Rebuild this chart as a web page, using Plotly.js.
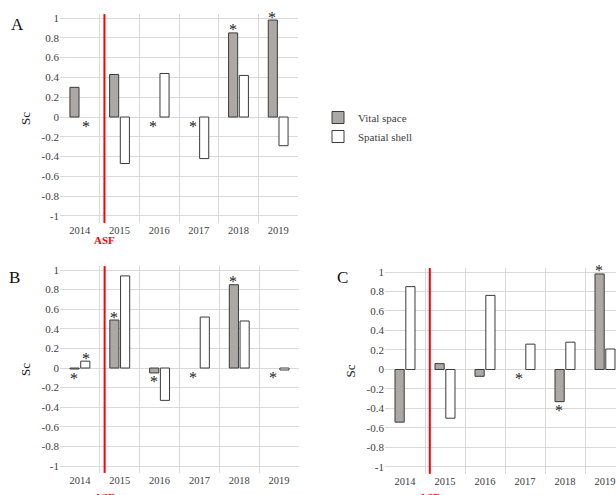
<!DOCTYPE html>
<html>
<head>
<meta charset="utf-8">
<script src="https://cdn.plot.ly/plotly-3.0.1.min.js"></script>
<style>
html,body{margin:0;padding:0;overflow:hidden;background:#fff;}
#chart{width:640px;height:495px;}
</style>
</head>
<body>
<div id="chart"></div>
<script>
// ---- data ----
const years = ['2014','2015','2016','2017','2018','2019'];
const yTickVals = [-1,-0.8,-0.6,-0.4,-0.2,0,0.2,0.4,0.6,0.8,1];
const yTickText = ['-1','-0.8','-0.6','-0.4','-0.2','0','0.2','0.4','0.6','0.8','1'];
const seriesNames = ['Vital space','Spatial shell'];
const panelLabels = ['A','B','C'];
const eventLabel = 'ASF';
const eventPos = 0.62; // between 2014 and 2015 (category index units)

const vitalA = [0.30, 0.43, null, null, 0.85, 0.98];
const shellA = [null, -0.47, 0.44, -0.42, 0.42, -0.29];
const starVitalA = [0,0,1,1,1,1];
const starShellA = [1,0,0,0,0,0];

const vitalB = [-0.01, 0.49, -0.05, null, 0.85, null];
const shellB = [0.07, 0.94, -0.33, 0.52, 0.48, -0.02];
const starVitalB = [1,1,1,1,1,1];
const starShellB = [1,0,0,0,0,0];

const vitalC = [-0.54, 0.06, -0.07, null, -0.33, 0.98];
const shellC = [0.85, -0.50, 0.76, 0.26, 0.28, 0.21];
const starVitalC = [0,0,0,1,1,1];
const starShellC = [0,0,0,0,0,0];

// ---- styling ----
const W = 640, H = 495;
const serif = "'Liberation Serif', 'Times New Roman', serif";
const tickColor = '#404040';
const gridColor = '#d9d9d9';
const grayFill = '#aca8a6';
const edge = '#3a3a3a';
const yRange = [-1.07, 1.04];

const panels = [
  {v: vitalA, s: shellA, sv: starVitalA, ss: starShellA, xd:[60,298], yd:[14.1,222.9], lab:[17,25], asfY:240},
  {v: vitalB, s: shellB, sv: starVitalB, ss: starShellB, xd:[60,299], yd:[266.1,472.9], lab:[14,277], asfY:497},
  {v: vitalC, s: shellC, sv: starVitalC, ss: starShellC, xd:[385,625], yd:[268.1,473.8], lab:[342,277], asfY:497}
];

const px = x => x / W;
const py = y => 1 - y / H;

const data = [];
const layout = {
  width: W, height: H,
  margin: {l:0, r:0, t:0, b:0},
  paper_bgcolor: '#fff', plot_bgcolor: '#fff',
  font: {family: serif, size: 10, color: tickColor},
  barmode: 'group', bargap: 0.46, bargroupgap: 0.15,
  showlegend: true,
  legend: {x: px(318), y: py(103), xanchor:'left', yanchor:'top',
           font:{family: serif, size: 11, color: tickColor}, bgcolor:'rgba(0,0,0,0)',
           itemwidth: 30, tracegroupgap: 0},
  annotations: [], shapes: []
};

panels.forEach((p, i) => {
  const sfx = i === 0 ? '' : String(i + 1);
  const xa = 'x' + sfx, ya = 'y' + sfx;
  data.push({type:'bar', x: years, y: p.v, name: seriesNames[0], xaxis: xa, yaxis: ya,
    marker:{color: grayFill, line:{color: edge, width: 1}}, showlegend: i === 0, legendgroup:'v', hoverinfo:'skip'});
  data.push({type:'bar', x: years, y: p.s, name: seriesNames[1], xaxis: xa, yaxis: ya,
    marker:{color: '#ffffff', line:{color: edge, width: 1}}, showlegend: i === 0, legendgroup:'s', hoverinfo:'skip'});

  layout['xaxis' + sfx] = {
    domain: [px(p.xd[0]), px(p.xd[1])], anchor: ya, type: 'category',
    categoryorder: 'array', categoryarray: years, range: [-0.5, 5.5], autorange: false,
    tickson: 'boundaries', showgrid: true, gridcolor: gridColor, gridwidth: 1,
    showline: false, zeroline: false, ticks: '', tickangle: 0,
    tickfont: {family: serif, size: 10.5, color: tickColor}, fixedrange: true
  };
  layout['yaxis' + sfx] = {
    domain: [py(p.yd[1]), py(p.yd[0])], anchor: xa, range: yRange, autorange: false,
    tickvals: yTickVals, ticktext: yTickText, showgrid: true, gridcolor: gridColor, gridwidth: 1,
    zeroline: false, showline: false, ticks: '',
    tickfont: {family: serif, size: 11, color: tickColor},
    title: {text: 'Sc', font: {family: serif, size: 13, color: '#222'}, standoff: 8},
    fixedrange: true
  };

  // ASF event line + label
  layout.shapes.push({type:'line', xref: xa, yref: ya + ' domain', x0: eventPos, x1: eventPos, y0: 0, y1: 1,
    line:{color:'#ff0000', width: 2}});
  layout.annotations.push({xref: xa, yref:'paper', x: eventPos, y: py(p.asfY), text: '<b>' + eventLabel + '</b>',
    showarrow:false, font:{family: serif, size: 11, color:'#ff0000'}, xanchor:'center', yanchor:'middle'});

  // panel label
  layout.annotations.push({xref:'paper', yref:'paper', x: px(p.lab[0]), y: py(p.lab[1]), text: panelLabels[i],
    showarrow:false, font:{family: serif, size: 17, color:'#111'}, xanchor:'center', yanchor:'middle'});

  // significance stars
  const addStars = (vals, flags, shift) => {
    vals.forEach((v, k) => {
      if (!flags[k]) return;
      const val = v === null ? 0 : v;
      const above = val > 0;
      layout.annotations.push({xref: xa, yref: ya, x: k, y: val, text: '*', showarrow: false,
        xshift: shift, yshift: above ? 3 : -9, xanchor:'center', yanchor:'middle',
        font:{family: serif, size: 16, color:'#222'}});
    });
  };
  addStars(p.v, p.sv, -6);
  addStars(p.s, p.ss, 6);
});

Plotly.newPlot('chart', data, layout, {displayModeBar: false, responsive: false});
</script>
</body>
</html>
